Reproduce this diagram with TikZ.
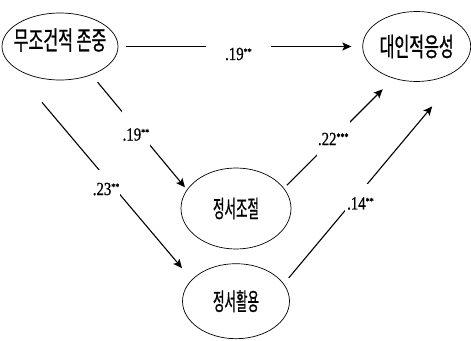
\documentclass[tikz,border=0pt]{standalone}
\usepackage{fontspec}
\usepackage{tikz}
\usetikzlibrary{positioning, arrows.meta, shapes.geometric}
\newfontfamily\kfont[FakeStretch=0.62, FakeBold=0.8]{Noto Sans CJK KR}
\newfontfamily\kfontn[FakeStretch=0.52, FakeBold=0.8]{Noto Sans CJK KR}
\newfontfamily\numfont[FakeStretch=0.8, FakeBold=0.8]{Liberation Serif}
\newcommand{\Sig}[1]{\raisebox{5pt}{\fontsize{10pt}{10pt}\selectfont #1}}
\tikzset{
    var/.style={ellipse, draw, line width=0.7pt, inner xsep=-14pt, inner ysep=0pt},
    bigvar/.style={var, font=\kfont\fontsize{26pt}{30pt}\selectfont},
    smallvar/.style={var, font=\kfontn\fontsize{24pt}{28pt}\selectfont},
    link/.style={-{Stealth[length=9pt, width=8pt, inset=2pt]}, line width=1.1pt},
    coef/.style={fill=white, inner sep=1pt, font=\numfont\fontsize{18.5pt}{21pt}\selectfont},
}
\begin{document}
\begin{tikzpicture}[x=1pt, y=-1pt]
    \useasboundingbox (0,0) rectangle (471,340);

    \node[bigvar, minimum width=116pt, minimum height=67pt, text depth=15pt] (jon) at (60,46.5) {무조건적 존중};
    \node[bigvar, minimum width=108pt, minimum height=70pt, right=244pt of jon] (adj) {대인적응성};
    \node[smallvar, minimum width=110pt, minimum height=81pt] (reg) at (236,208.5) {정서조절};
    \node[smallvar, minimum width=107pt, minimum height=75pt, below=14pt of reg] (use) {정서활용};

    \draw (jon.east) edge[link, shorten <=8pt, shorten >=11pt] node[coef, pos=0.492, yshift=-7.5pt, inner xsep=19pt, inner ysep=5pt] {.19\Sig{**}} (adj.west);
    \draw (jon.-42.4) edge[link, shorten <=9.4pt, shorten >=3pt] node[coef, pos=0.465, text height=32.75pt, text depth=8.25pt] {.19\Sig{**}} (reg.159.7);
    \draw ([xshift=-18pt, yshift=-22pt]jon.south) edge[link, shorten >=15pt] node[coef, pos=0.468, xshift=-6pt, text height=23.75pt, text depth=4.25pt] {.23\Sig{**}} (use.154.6);
    \draw (reg.23.7) edge[link, shorten <=4pt, shorten >=15.2pt] node[coef, pos=0.45, text height=26.75pt, text depth=14.25pt] {.22\Sig{***}} (adj.234.5);
    \draw (use.20.6) edge[link, shorten <=7.6pt] node[coef, pos=0.4825, xshift=5pt, inner xsep=2pt, text height=24.75pt, text depth=2.25pt] {.14\Sig{**}} ([xshift=15.5pt, yshift=-24.5pt]adj.south);
\end{tikzpicture}
\end{document}
